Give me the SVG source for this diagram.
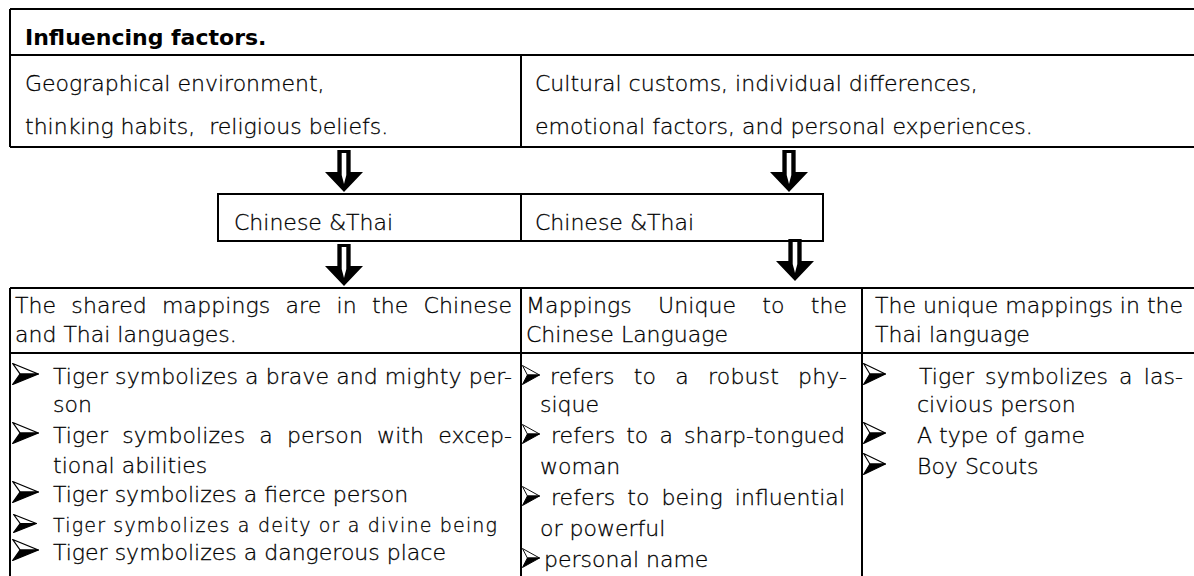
<svg xmlns="http://www.w3.org/2000/svg" width="1194" height="576" viewBox="0 0 1194 576">
<style>
.t { font-family: "DejaVu Sans", "Liberation Sans", sans-serif; font-size: 22px; font-weight: 300; fill: #000; stroke: #000; stroke-width: 0.3; white-space: pre; }
.b { font-weight: bold; stroke: none; }
.s { font-size: 19px; }
.ln { stroke: #000; stroke-width: 2; fill: none; }
</style>
<defs>
<g id="blockArrow">
<path d="M -6.65,0 H 6.65 V 22 H 19 L 0,42 L -19,22 H -6.65 Z" fill="#000"/>
<path d="M -2.3,3 H 2.3 V 25 L 0,34 L -2.3,25 Z" fill="#fff"/>
</g>
<symbol id="bullet" viewBox="0 0 20 20" preserveAspectRatio="none" overflow="visible">
<path d="M0.5,0.5 L19.5,10 L6,10 Z" fill="#fff" stroke="#000" stroke-width="1" stroke-linejoin="round"/>
<path d="M6,10 L19.5,10 L0.5,19.5 Z" fill="#000" stroke="#000" stroke-width="1" stroke-linejoin="round"/>
</symbol>
</defs>
<rect width="1194" height="576" fill="#fff"/>

<g id="factors-table">
<path class="ln" d="M10,9 H1194 M10,9 V147 M10,55 H1194 M10,147 H1194 M521,55 V147"/>
<text class="t b" x="25" y="45">Influencing factors.</text>
<text class="t" x="25" y="91">Geographical environment,</text>
<text class="t" x="25" y="134">thinking habits,  religious beliefs.</text>
<text class="t" x="535" y="91">Cultural customs, individual differences,</text>
<text class="t" x="535" y="134">emotional factors, and personal experiences.</text>
</g>

<g id="chinese-thai">
<path class="ln" d="M218,194 H823 V241 H218 Z M521,194 V241"/>
<text class="t" x="234" y="230">Chinese &amp;Thai</text>
<text class="t" x="535" y="230">Chinese &amp;Thai</text>
</g>

<g id="connectors">
<use href="#blockArrow" transform="translate(344,150)"/>
<use href="#blockArrow" transform="translate(789,150)"/>
<use href="#blockArrow" transform="translate(344,244)"/>
<use href="#blockArrow" transform="translate(795,239)"/>
</g>

<g id="mappings-table">
<path class="ln" d="M10,288 H1194 M10,288 V576 M10,353 H1194 M521,288 V576 M862,288 V576"/>
</g>

<g id="shared-mappings">
<text class="t" x="15" y="313" word-spacing="8" textLength="497" lengthAdjust="spacing">The shared mappings are in the Chinese</text>
<text class="t" x="15" y="342">and Thai languages.</text>
<use href="#bullet" x="12" y="363" width="27" height="22"/>
<text class="t" x="53" y="384" textLength="459" lengthAdjust="spacing">Tiger symbolizes a brave and mighty per-</text>
<text class="t" x="53" y="412">son</text>
<use href="#bullet" x="12" y="422" width="27" height="22"/>
<text class="t" x="53" y="443" word-spacing="7" textLength="459" lengthAdjust="spacing">Tiger symbolizes a person with excep-</text>
<text class="t" x="53" y="473">tional abilities</text>
<use href="#bullet" x="12" y="481" width="27" height="22"/>
<text class="t" x="53" y="502">Tiger symbolizes a fierce person</text>
<use href="#bullet" x="13" y="514" width="24" height="19"/>
<text class="t s" x="53" y="532" textLength="444" lengthAdjust="spacing">Tiger symbolizes a deity or a divine being</text>
<use href="#bullet" x="12" y="539" width="27" height="22"/>
<text class="t" x="53" y="560">Tiger symbolizes a dangerous place</text>
</g>

<g id="chinese-unique">
<text class="t" x="526" y="313" word-spacing="19" textLength="321" lengthAdjust="spacing">Mappings Unique to the</text>
<text class="t" x="526" y="342">Chinese Language</text>
<use href="#bullet" x="522" y="365" width="18" height="20"/>
<text class="t" x="550" y="384" word-spacing="12" textLength="297" lengthAdjust="spacing">refers to a robust phy-</text>
<text class="t" x="540" y="412">sique</text>
<use href="#bullet" x="522" y="424" width="18" height="20"/>
<text class="t" x="551" y="443" word-spacing="4" textLength="294" lengthAdjust="spacing">refers to a sharp-tongued</text>
<text class="t" x="540" y="474">woman</text>
<use href="#bullet" x="522" y="486" width="18" height="20"/>
<text class="t" x="551" y="505" word-spacing="5" textLength="294" lengthAdjust="spacing">refers to being influential</text>
<text class="t" x="540" y="536">or powerful</text>
<use href="#bullet" x="522" y="548" width="18" height="20"/>
<text class="t" x="544" y="567">personal name</text>
</g>

<g id="thai-unique">
<text class="t" x="875" y="313" textLength="308" lengthAdjust="spacing">The unique mappings in the</text>
<text class="t" x="875" y="342">Thai language</text>
<use href="#bullet" x="863" y="363" width="23" height="22"/>
<text class="t" x="919" y="384" word-spacing="4" textLength="264" lengthAdjust="spacing">Tiger symbolizes a las-</text>
<text class="t" x="917" y="412">civious person</text>
<use href="#bullet" x="863" y="422" width="23" height="22"/>
<text class="t" x="917" y="443">A type of game</text>
<use href="#bullet" x="863" y="453" width="23" height="22"/>
<text class="t" x="917" y="474">Boy Scouts</text>
</g>
</svg>
